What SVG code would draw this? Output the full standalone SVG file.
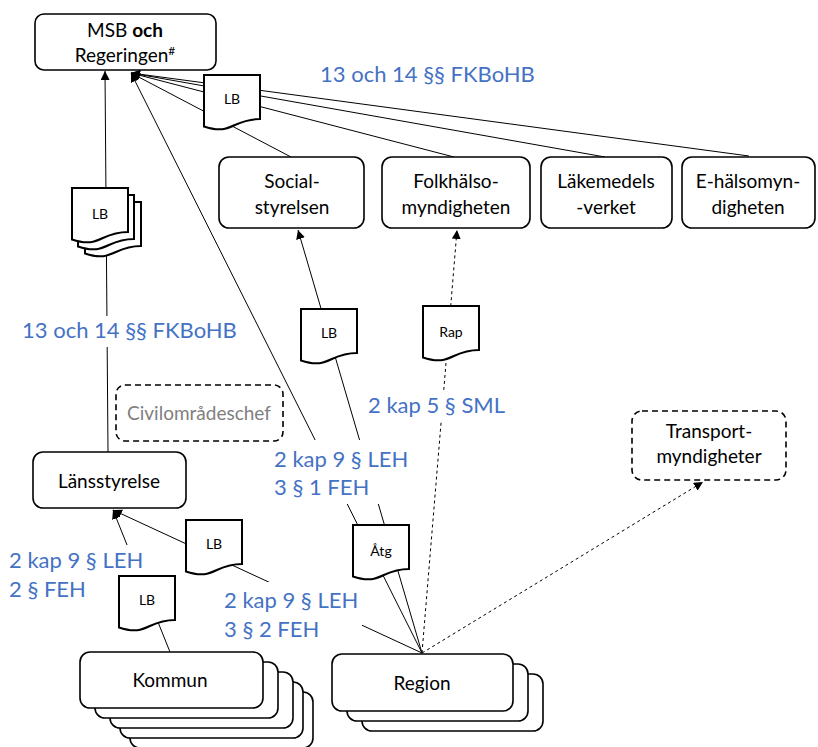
<svg xmlns="http://www.w3.org/2000/svg" xmlns:xlink="http://www.w3.org/1999/xlink" width="818" height="747" viewBox="0 0 818 747">
<style>
.box{fill:#fff;stroke:#000;stroke-width:1.6}
.dbox{fill:#fff;stroke:#000;stroke-width:1.6;stroke-dasharray:6,4}
.doc{fill:#fff;stroke:#000;stroke-width:2}
.ln{stroke:#000;stroke-width:1;fill:none}
.dash{stroke-dasharray:3,3}
.t{font-family:Lato,"Liberation Sans",sans-serif;font-size:19px;fill:#000;text-anchor:middle}
.g{fill:#7f7f7f}
.s{font-family:Lato,"Liberation Sans",sans-serif;font-size:14px;fill:#000;text-anchor:middle}
.b{font-family:Lato,"Liberation Sans",sans-serif;font-size:22px;fill:#4472C4}
.bg{fill:#fff;stroke:none}
</style>
<defs>
<marker id="arr" viewBox="0 0 10 10" refX="10" refY="5" markerWidth="9" markerHeight="9" markerUnits="userSpaceOnUse" orient="auto"><path d="M0,0 L10,5 L0,10 z" fill="#000"/></marker>
<path id="doc" d="M0,0 H56 V44 C28,44 28,61 0,51.5 Z"/>
</defs>

<g id="connectors">
<path class="ln" d="M108,452 L105,71" marker-end="url(#arr)"/>
<path class="ln" d="M422,653 L131,73" marker-end="url(#arr)"/>
<path class="ln" d="M291,157 L131,73" marker-end="url(#arr)"/>
<path class="ln" d="M454,157 L131,73" marker-end="url(#arr)"/>
<path class="ln" d="M605,157 L131,73" marker-end="url(#arr)"/>
<path class="ln" d="M749,156 L131,73" marker-end="url(#arr)"/>
<path class="ln" d="M422,653 L298,230" marker-end="url(#arr)"/>
<path class="ln dash" d="M422,653 L457,230" marker-end="url(#arr)"/>
<path class="ln dash" d="M422,653 L703,482" marker-end="url(#arr)"/>
<path class="ln" d="M422,653 L113,510" marker-end="url(#arr)"/>
<path class="ln" d="M170,652 L113,510" marker-end="url(#arr)"/>
</g>

<g id="labels">
<text class="b" x="320" y="82">13 och 14 §§ FKBoHB</text>
<rect class="bg" x="18" y="316" width="222" height="31"/>
<text class="b" x="22" y="338">13 och 14 §§ FKBoHB</text>
<rect class="bg" x="365" y="392" width="143" height="28"/>
<text class="b" x="368" y="413">2 kap 5 § SML</text>
<rect class="bg" x="270" y="440" width="142" height="64"/>
<text class="b" x="274" y="467">2 kap 9 § LEH</text>
<text class="b" x="274" y="495">3 § 1 FEH</text>
<rect class="bg" x="4" y="545" width="138" height="60"/>
<text class="b" x="9" y="568">2 kap 9 § LEH</text>
<text class="b" x="9" y="597">2 § FEH</text>
<rect class="bg" x="219" y="582" width="143" height="62"/>
<text class="b" x="224" y="608">2 kap 9 § LEH</text>
<text class="b" x="224" y="637">3 § 2 FEH</text>
</g>

<g id="doc-lb-msb"><use xlink:href="#doc" class="doc" x="204" y="75"/><text class="s" x="232" y="104">LB</text></g>
<g id="doc-lb-stack">
<use xlink:href="#doc" class="doc" x="85" y="202"/>
<use xlink:href="#doc" class="doc" x="78" y="195"/>
<use xlink:href="#doc" class="doc" x="72" y="188"/>
<text class="s" x="100" y="219">LB</text>
</g>
<g id="doc-lb-social"><use xlink:href="#doc" class="doc" x="301" y="309"/><text class="s" x="329" y="338">LB</text></g>
<g id="doc-rap"><use xlink:href="#doc" class="doc" x="423" y="306"/><text class="s" x="451" y="337">Rap</text></g>
<g id="doc-atg"><use xlink:href="#doc" class="doc" x="353" y="525"/><text class="s" x="381" y="556">Åtg</text></g>
<g id="doc-lb-lans"><use xlink:href="#doc" class="doc" x="186" y="520"/><text class="s" x="214" y="549">LB</text></g>
<g id="doc-lb-kommun"><use xlink:href="#doc" class="doc" x="119" y="576"/><text class="s" x="147" y="605">LB</text></g>

<g id="msb">
<rect class="box" x="35" y="14" width="181" height="56" rx="9"/>
<text class="t" x="125" y="37">MSB <tspan font-weight="bold">och</tspan></text>
<text class="t" x="125" y="62">Regeringen<tspan font-size="12" dy="-7">#</tspan></text>
</g>
<g id="socialstyrelsen">
<rect class="box" x="219" y="157" width="145" height="71" rx="10"/>
<text class="t" x="292" y="188">Social-</text>
<text class="t" x="292" y="214">styrelsen</text>
</g>
<g id="folkhalsomyndigheten">
<rect class="box" x="382" y="157" width="148" height="71" rx="10"/>
<text class="t" x="456" y="188">Folkhälso-</text>
<text class="t" x="456" y="214">myndigheten</text>
</g>
<g id="lakemedelsverket">
<rect class="box" x="541" y="157" width="131" height="71" rx="10"/>
<text class="t" x="606" y="188">Läkemedels</text>
<text class="t" x="606" y="214">-verket</text>
</g>
<g id="ehalsomyndigheten">
<rect class="box" x="682" y="157" width="133" height="71" rx="10"/>
<text class="t" x="748" y="188">E-hälsomyn-</text>
<text class="t" x="748" y="214">digheten</text>
</g>
<g id="civilomradeschef">
<rect class="dbox" x="116" y="385" width="167" height="56" rx="9"/>
<text class="t g" x="199" y="420">Civilområdeschef</text>
</g>
<g id="transportmyndigheter">
<rect class="dbox" x="632" y="411" width="154" height="69" rx="10"/>
<text class="t" x="709" y="438">Transport-</text>
<text class="t" x="709" y="463">myndigheter</text>
</g>
<g id="lansstyrelse">
<rect class="box" x="33" y="452" width="153" height="56" rx="10"/>
<text class="t" x="109" y="488">Länsstyrelse</text>
</g>
<g id="kommun">
<rect class="box" x="130" y="692" width="183" height="56" rx="10"/>
<rect class="box" x="120" y="682" width="183" height="56" rx="10"/>
<rect class="box" x="110" y="672" width="183" height="56" rx="10"/>
<rect class="box" x="95" y="662" width="183" height="56" rx="10"/>
<rect class="box" x="80" y="652" width="183" height="56" rx="10"/>
<text class="t" x="170" y="687">Kommun</text>
</g>
<g id="region">
<rect class="box" x="362" y="674" width="181" height="57" rx="10"/>
<rect class="box" x="347" y="664" width="181" height="57" rx="10"/>
<rect class="box" x="332" y="654" width="181" height="57" rx="10"/>
<text class="t" x="422" y="690">Region</text>
</g>
</svg>
